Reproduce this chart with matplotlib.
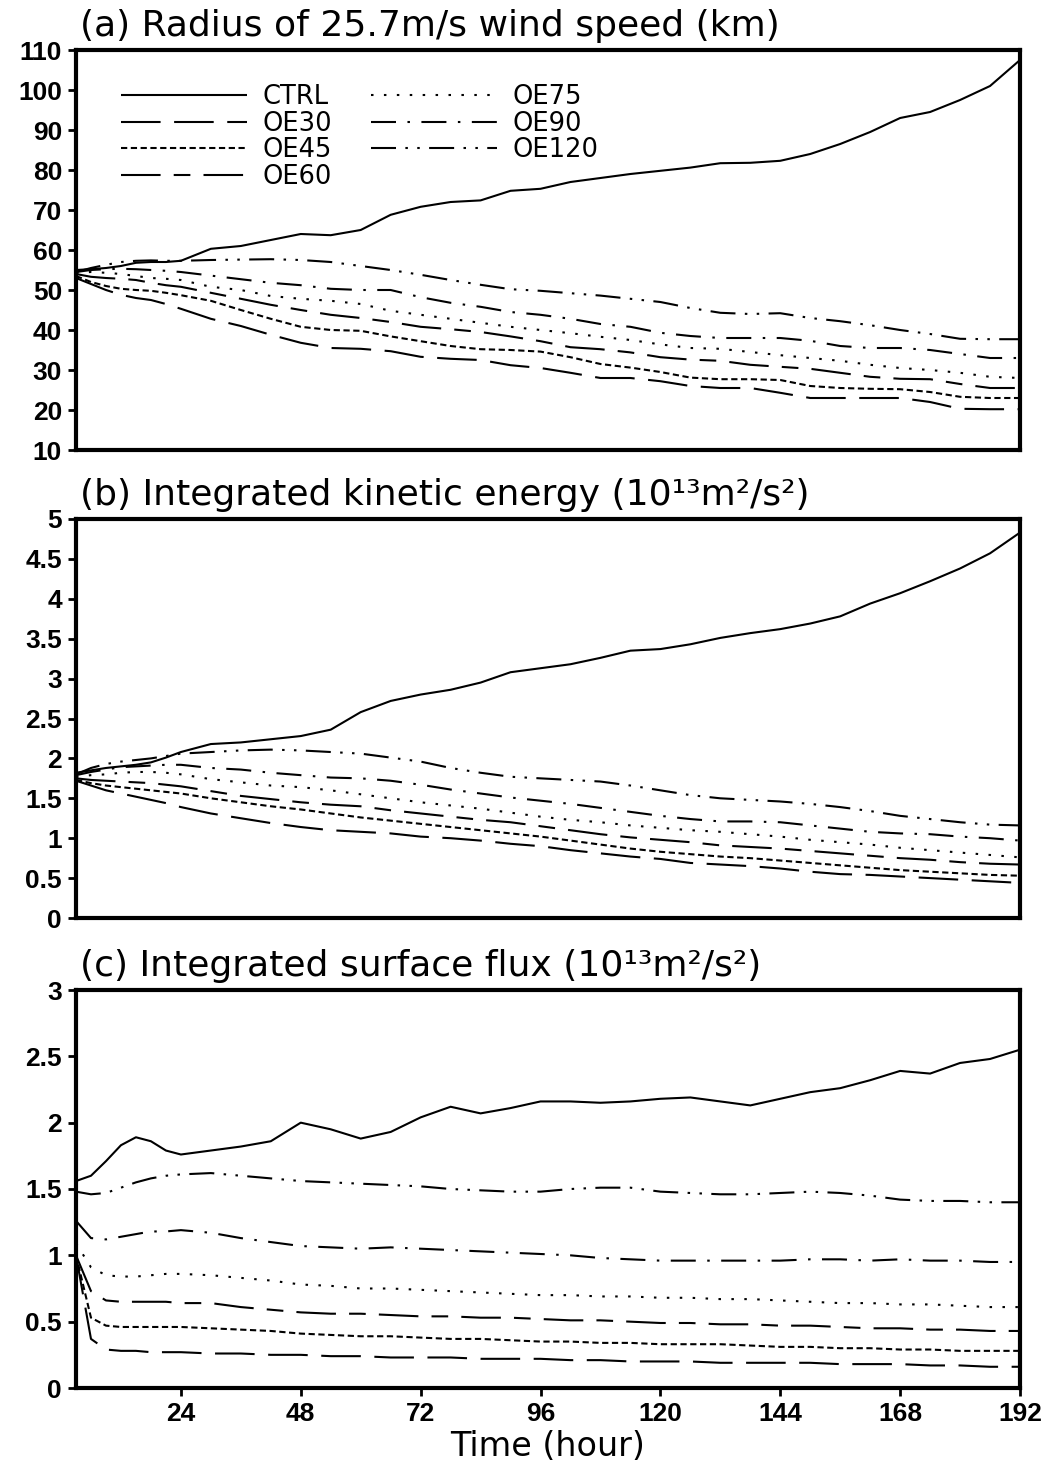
import matplotlib
matplotlib.use('Agg')
import matplotlib.pyplot as plt

# Time (hour) of the model output
time_h = [3, 6, 9, 12, 15, 18, 21, 24, 30, 36, 42, 48, 54, 60, 66, 72, 78, 84,
          90, 96, 102, 108, 114, 120, 126, 132, 138, 144, 150, 156, 162, 168,
          174, 180, 186, 192]

names = ['CTRL', 'OE30', 'OE45', 'OE60', 'OE75', 'OE90', 'OE120']

# (a) radius of 25.7 m/s wind (km)
ctrl_a = [55.0, 55.2, 55.5, 56.0, 56.8, 57.0, 57.0, 57.3, 60.3, 61.0, 62.5, 64.0, 63.7, 65.0, 68.8, 70.8, 72.0, 72.4,
          74.8, 75.3, 77.0, 78.0, 79.0, 79.8, 80.6, 81.7, 81.8, 82.3, 84.0, 86.5, 89.5, 93.0, 94.5, 97.5, 101.0, 107.5]
oe30_a = [53.0, 51.5, 50.0, 48.8, 48.0, 47.5, 46.5, 45.3, 42.8, 41.0, 38.8, 36.8, 35.5, 35.3, 34.7, 33.3, 32.8, 32.5,
          31.2, 30.5, 29.3, 28.0, 28.0, 27.2, 26.0, 25.5, 25.5, 24.3, 23.0, 23.0, 23.0, 23.0, 22.0, 20.3, 20.2, 20.2]
oe45_a = [53.5, 52.0, 51.0, 50.3, 50.0, 49.8, 49.3, 48.7, 47.3, 45.0, 42.8, 40.8, 40.0, 39.8, 38.4, 37.2, 36.0, 35.2,
          35.0, 34.6, 33.2, 31.5, 30.6, 29.5, 28.1, 27.7, 27.7, 27.5, 26.0, 25.5, 25.3, 25.2, 24.5, 23.3, 23.0, 23.0]
oe60_a = [54.0, 53.3, 53.0, 52.8, 52.5, 51.8, 51.2, 50.8, 49.3, 47.8, 46.3, 45.0, 43.8, 43.0, 42.0, 40.8, 40.2, 39.5,
          38.4, 37.2, 35.7, 35.2, 34.4, 33.2, 32.6, 32.3, 31.3, 30.8, 30.3, 29.3, 28.3, 27.8, 27.7, 26.5, 25.5, 25.5]
oe75_a = [54.3, 54.5, 54.3, 54.0, 53.5, 53.0, 52.8, 52.5, 50.8, 50.0, 48.5, 47.8, 47.3, 46.5, 44.8, 43.8, 42.8, 41.8,
          40.8, 40.0, 39.2, 38.3, 37.5, 36.4, 35.5, 35.3, 34.5, 33.7, 33.0, 32.3, 31.3, 30.5, 30.0, 29.3, 28.3, 28.0]
oe90_a = [54.5, 55.0, 55.2, 55.3, 55.2, 55.0, 54.8, 54.5, 53.6, 52.7, 51.8, 51.2, 50.3, 50.0, 50.0, 48.2, 46.8, 45.8,
          44.5, 43.8, 42.8, 41.5, 40.8, 39.3, 38.5, 38.0, 38.0, 38.0, 37.3, 36.0, 35.5, 35.5, 35.0, 34.0, 33.0, 33.0]
oe120_a = [54.5, 55.5, 56.3, 57.0, 57.3, 57.4, 57.3, 57.3, 57.5, 57.6, 57.7, 57.5, 57.0, 56.0, 55.0, 53.8, 52.5, 51.3,
           50.2, 49.8, 49.2, 48.6, 47.8, 47.0, 45.5, 44.3, 44.0, 44.2, 43.0, 42.2, 41.2, 40.0, 39.0, 37.8, 37.7, 37.7]

# (b) integrated kinetic energy (1e13 m2/s2)
ctrl_b = [1.82, 1.85, 1.88, 1.90, 1.92, 1.95, 2.01, 2.08, 2.18, 2.20, 2.24, 2.28, 2.36, 2.58, 2.72, 2.80, 2.86, 2.95,
          3.08, 3.13, 3.18, 3.26, 3.35, 3.37, 3.43, 3.51, 3.57, 3.62, 3.69, 3.78, 3.94, 4.07, 4.22, 4.38, 4.57, 4.83]
oe30_b = [1.72, 1.66, 1.60, 1.56, 1.52, 1.48, 1.44, 1.39, 1.31, 1.25, 1.19, 1.14, 1.10, 1.08, 1.06, 1.02, 1.00, 0.97,
          0.93, 0.90, 0.85, 0.81, 0.77, 0.74, 0.69, 0.67, 0.65, 0.62, 0.58, 0.55, 0.54, 0.52, 0.50, 0.48, 0.46, 0.44]
oe45_b = [1.73, 1.69, 1.66, 1.64, 1.62, 1.60, 1.58, 1.56, 1.50, 1.45, 1.40, 1.36, 1.31, 1.26, 1.22, 1.18, 1.14, 1.10,
          1.06, 1.02, 0.97, 0.92, 0.87, 0.83, 0.80, 0.77, 0.75, 0.72, 0.69, 0.66, 0.63, 0.60, 0.58, 0.56, 0.54, 0.53]
oe60_b = [1.75, 1.73, 1.72, 1.71, 1.70, 1.69, 1.67, 1.65, 1.59, 1.53, 1.49, 1.45, 1.42, 1.40, 1.35, 1.31, 1.27, 1.23,
          1.20, 1.15, 1.10, 1.05, 1.01, 0.98, 0.95, 0.91, 0.89, 0.87, 0.84, 0.81, 0.78, 0.75, 0.73, 0.70, 0.68, 0.67]
oe75_b = [1.77, 1.79, 1.80, 1.82, 1.83, 1.83, 1.82, 1.80, 1.74, 1.70, 1.66, 1.64, 1.60, 1.55, 1.50, 1.45, 1.41, 1.37,
          1.32, 1.27, 1.23, 1.20, 1.16, 1.13, 1.10, 1.08, 1.05, 1.02, 0.98, 0.95, 0.92, 0.88, 0.85, 0.82, 0.79, 0.76]
oe90_b = [1.79, 1.83, 1.86, 1.89, 1.90, 1.91, 1.92, 1.92, 1.88, 1.86, 1.82, 1.79, 1.76, 1.75, 1.72, 1.67, 1.61, 1.56,
          1.51, 1.47, 1.43, 1.38, 1.33, 1.28, 1.24, 1.21, 1.21, 1.20, 1.16, 1.12, 1.08, 1.06, 1.05, 1.02, 1.00, 0.97]
oe120_b = [1.80, 1.88, 1.93, 1.96, 1.98, 2.00, 2.03, 2.06, 2.08, 2.10, 2.11, 2.10, 2.08, 2.06, 2.01, 1.96, 1.88, 1.82,
           1.77, 1.75, 1.73, 1.71, 1.66, 1.60, 1.54, 1.50, 1.48, 1.46, 1.43, 1.39, 1.34, 1.28, 1.24, 1.20, 1.17, 1.16]

# (c) integrated surface flux (1e13 m2/s2)
ctrl_c = [1.56, 1.60, 1.71, 1.83, 1.89, 1.86, 1.79, 1.76, 1.79, 1.82, 1.86, 2.00, 1.95, 1.88, 1.93, 2.04, 2.12, 2.07,
          2.11, 2.16, 2.16, 2.15, 2.16, 2.18, 2.19, 2.16, 2.13, 2.18, 2.23, 2.26, 2.32, 2.39, 2.37, 2.45, 2.48, 2.55]
oe30_c = [1.00, 0.37, 0.29, 0.28, 0.28, 0.27, 0.27, 0.27, 0.26, 0.26, 0.25, 0.25, 0.24, 0.24, 0.23, 0.23, 0.23, 0.22,
          0.22, 0.22, 0.21, 0.21, 0.20, 0.20, 0.20, 0.19, 0.19, 0.19, 0.19, 0.18, 0.18, 0.18, 0.17, 0.17, 0.16, 0.16]
oe45_c = [1.00, 0.53, 0.47, 0.46, 0.46, 0.46, 0.46, 0.46, 0.45, 0.44, 0.43, 0.41, 0.40, 0.39, 0.39, 0.38, 0.37, 0.37,
          0.36, 0.35, 0.35, 0.34, 0.34, 0.33, 0.33, 0.33, 0.32, 0.31, 0.31, 0.30, 0.30, 0.29, 0.29, 0.28, 0.28, 0.28]
oe60_c = [1.00, 0.73, 0.66, 0.65, 0.65, 0.65, 0.65, 0.64, 0.64, 0.61, 0.59, 0.57, 0.56, 0.56, 0.55, 0.54, 0.54, 0.53,
          0.53, 0.52, 0.51, 0.51, 0.50, 0.49, 0.49, 0.48, 0.48, 0.47, 0.47, 0.46, 0.45, 0.45, 0.44, 0.44, 0.43, 0.43]
oe75_c = [1.09, 0.91, 0.85, 0.84, 0.84, 0.85, 0.86, 0.86, 0.85, 0.83, 0.81, 0.78, 0.77, 0.75, 0.75, 0.74, 0.73, 0.72,
          0.71, 0.70, 0.70, 0.69, 0.69, 0.68, 0.68, 0.67, 0.67, 0.66, 0.65, 0.64, 0.64, 0.63, 0.63, 0.62, 0.61, 0.61]
oe90_c = [1.26, 1.13, 1.12, 1.14, 1.16, 1.18, 1.18, 1.19, 1.17, 1.13, 1.10, 1.07, 1.06, 1.05, 1.06, 1.05, 1.04, 1.03,
          1.02, 1.01, 1.00, 0.98, 0.97, 0.96, 0.96, 0.96, 0.96, 0.96, 0.97, 0.97, 0.96, 0.97, 0.96, 0.96, 0.95, 0.95]
oe120_c = [1.48, 1.46, 1.47, 1.51, 1.55, 1.58, 1.60, 1.61, 1.62, 1.60, 1.58, 1.56, 1.55, 1.54, 1.53, 1.52, 1.50, 1.49,
           1.48, 1.48, 1.50, 1.51, 1.51, 1.48, 1.47, 1.46, 1.46, 1.47, 1.48, 1.47, 1.45, 1.42, 1.41, 1.41, 1.40, 1.40]

x_ticks = [24, 48, 72, 96, 120, 144, 168, 192]
y_ticks_a = [10, 20, 30, 40, 50, 60, 70, 80, 90, 100, 110]
y_ticks_b = [0, 0.5, 1, 1.5, 2, 2.5, 3, 3.5, 4, 4.5, 5]
y_ticks_c = [0, 0.5, 1, 1.5, 2, 2.5, 3]

titles = ['(a) Radius of 25.7m/s wind speed (km)',
          '(b) Integrated kinetic energy (10\u00b9\u00b3m\u00b2/s\u00b2)',
          '(c) Integrated surface flux (10\u00b9\u00b3m\u00b2/s\u00b2)']

# GrADS-like line styles (dash lengths are in units of line width)
styles = {
    'CTRL': '-',
    'OE30': (0, (19, 6.5)),
    'OE45': (0, (3, 1.7)),
    'OE60': (0, (19, 6.3, 8, 6.3)),
    'OE75': (0, (1.2, 5.0)),
    'OE90': (0, (12, 5.5, 1.2, 5.5)),
    'OE120': (0, (12, 4.5, 1.2, 4.5, 1.2, 4.5)),
}

tick_font = ['Liberation Sans', 'DejaVu Sans']
text_font = ['DejaVu Sans']


def draw_panel(ax, series, ylim, yticks, title, show_x):
    for name, vals in zip(names, series):
        ax.plot(time_h, vals, color='black', lw=1.5, linestyle=styles[name],
                label=name, dash_capstyle='butt', solid_capstyle='butt')
    ax.set_xlim(3, 192)
    ax.set_ylim(*ylim)
    ax.set_yticks(yticks)
    ax.set_yticklabels(['%g' % v for v in yticks])
    ax.set_xticks(x_ticks)
    for sp in ax.spines.values():
        sp.set_linewidth(3)
    ax.tick_params(axis='y', direction='out', length=6, width=2, pad=4)
    ax.tick_params(axis='x', direction='out', length=6, width=2, pad=4,
                   bottom=show_x, labelbottom=show_x)
    for lab in ax.get_yticklabels() + ax.get_xticklabels():
        lab.set_fontfamily(tick_font)
        lab.set_fontweight('bold')
        lab.set_fontsize(19)
    ax.text(0.004, 1.035, title, transform=ax.transAxes, ha='left', va='baseline',
            fontsize=26, family=text_font)


fig = plt.figure(figsize=(10.52, 14.65), dpi=100)
W, H = 1052.0, 1465.0
boxes = [(76, 50, 1020, 450), (76, 519, 1020, 918), (76, 990, 1020, 1388)]
axes = [fig.add_axes([l / W, 1 - b / H, (r - l) / W, (b - t) / H]) for l, t, r, b in boxes]

draw_panel(axes[0], [ctrl_a, oe30_a, oe45_a, oe60_a, oe75_a, oe90_a, oe120_a],
           (10, 110), y_ticks_a, titles[0], False)
draw_panel(axes[1], [ctrl_b, oe30_b, oe45_b, oe60_b, oe75_b, oe90_b, oe120_b],
           (0, 5), y_ticks_b, titles[1], False)
draw_panel(axes[2], [ctrl_c, oe30_c, oe45_c, oe60_c, oe75_c, oe90_c, oe120_c],
           (0, 3), y_ticks_c, titles[2], True)

axes[0].legend(ncol=2, loc='upper left', bbox_to_anchor=(0.048, 0.915), frameon=False,
               prop={'family': text_font, 'size': 18.5}, handlelength=4.9, handletextpad=0.6,
               columnspacing=1.5, labelspacing=0.02, borderaxespad=0, borderpad=0)

axes[2].set_xlabel('Time (hour)', fontsize=24, family=text_font, labelpad=3)

fig.savefig('out.png', dpi=100, facecolor='white')
